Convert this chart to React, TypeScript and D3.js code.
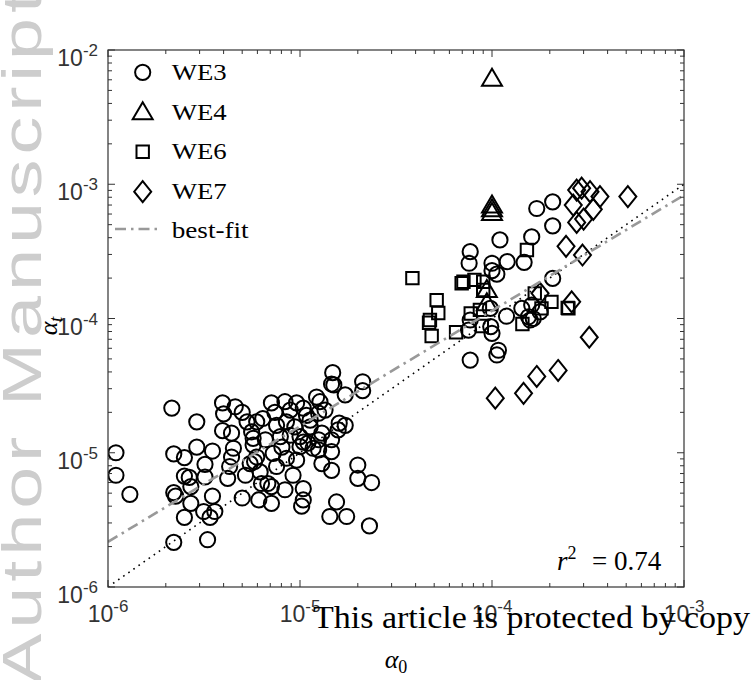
import React from 'react';
import * as d3 from 'd3';

// ---- data (alpha_0, alpha_t) ----
const WE3_X = [
  1.1e-6, 1.1e-6, 1.3e-6, 2.15e-6, 2.9e-6, 2.2e-6, 2.5e-6, 2.9e-6, 3.5e-6, 3.2e-6,
  2.5e-6, 2.65e-6, 3.2e-6, 2.2e-6, 2.25e-6, 2.7e-6, 2.7e-6, 2.5e-6, 3.15e-6, 3.4e-6,
  3.6e-6, 3.5e-6, 2.2e-6, 3.3e-6, 3.95e-6, 4.0e-6, 4.6e-6, 5.0e-6, 3.95e-6, 4.4e-6,
  4.5e-6, 4.4e-6, 4.3e-6, 4.2e-6, 5.2e-6, 5.0e-6, 5.3e-6, 5.6e-6, 5.7e-6, 5.8e-6,
  6.1e-6, 7.1e-6, 6.4e-6, 6.6e-6, 7.1e-6, 6.8e-6,
  1.48e-5, 1.46e-5, 1.5e-5, 2.12e-5, 2.12e-5, 1.72e-5, 1.22e-5, 1.27e-5, 8.35e-6, 9.6e-6,
  1.04e-5, 7.4e-6, 8.9e-6, 1.08e-5, 1.25e-5, 5.95e-6, 7.55e-6, 8.5e-6, 9.4e-6, 1.13e-5,
  1.6e-5, 1.72e-5, 1.58e-5, 5.7e-6, 7.9e-6, 1.0e-5, 1.3e-5, 1.04e-5, 1.0e-5, 1.17e-5,
  1.46e-5, 1.1e-5, 1.25e-5, 5.95e-6, 7.25e-6, 8.5e-6, 9.6e-6, 1.46e-5, 1.3e-5, 1.46e-5,
  5.5e-6, 6.2e-6, 7.55e-6, 9.2e-6, 2.0e-5, 2.0e-5, 2.36e-5, 6.3e-6, 7.1e-6, 8.35e-6,
  1.04e-5, 1.04e-5, 1.02e-5, 1.55e-5, 1.43e-5, 1.75e-5, 2.3e-5,
  8.9e-6, 1.13e-5, 1.35e-5, 8.05e-6, 1.25e-5,
  1.71e-4, 2.07e-4, 2.07e-4, 1.1e-4, 1.61e-4, 7.7e-5, 7.6e-5, 1.0e-4, 1.2e-4, 1.47e-4,
  1.0e-4, 1.06e-4, 2.07e-4, 9.8e-5, 1.19e-4, 9.85e-5, 1.0e-4, 7.7e-5, 7.55e-5, 1.43e-4,
  1.61e-4, 1.64e-4, 1.78e-4, 1.55e-4, 1.08e-4, 1.06e-4, 7.7e-5, 1.58e-4,
];
const WE3_Y = [
  1.0e-5, 6.8e-6, 4.9e-6, 2.15e-5, 1.7e-5, 9.8e-6, 9.2e-6, 1.1e-5, 1.03e-5, 8.2e-6,
  6.7e-6, 6.55e-6, 6.6e-6, 5.05e-6, 4.75e-6, 5.6e-6, 4.2e-6, 3.3e-6, 3.65e-6, 3.3e-6,
  3.65e-6, 4.75e-6, 2.15e-6, 2.25e-6, 2.35e-5, 1.95e-5, 2.2e-5, 2.0e-5, 1.46e-5, 1.4e-5,
  1.08e-5, 9.3e-6, 7.9e-6, 6.45e-6, 6.8e-6, 4.6e-6, 1.7e-5, 1.43e-5, 1.14e-5, 8.6e-6,
  4.45e-6, 2.35e-5, 1.8e-5, 1.25e-5, 4.2e-6, 5.9e-6,
  3.95e-5, 3.25e-5, 3.2e-5, 3.38e-5, 2.9e-5, 2.7e-5, 2.6e-5, 2.4e-5, 2.4e-5, 2.35e-5,
  2.15e-5, 2.0e-5, 2.08e-5, 1.9e-5, 1.97e-5, 1.7e-5, 1.6e-5, 1.7e-5, 1.56e-5, 1.56e-5,
  1.66e-5, 1.6e-5, 1.48e-5, 1.28e-5, 1.32e-5, 1.32e-5, 1.4e-5, 1.2e-5, 1.11e-5, 1.08e-5,
  1.25e-5, 1.18e-5, 1.05e-5, 9.3e-6, 9.9e-6, 9.1e-6, 8.8e-6, 1.02e-5, 8.3e-6, 7.4e-6,
  8.3e-6, 7.2e-6, 7.9e-6, 6.8e-6, 8.1e-6, 6.45e-6, 6.0e-6, 5.9e-6, 5.6e-6, 5.3e-6,
  5.4e-6, 4.45e-6, 4.0e-6, 4.3e-6, 3.35e-6, 3.35e-6, 2.85e-6,
  1.35e-5, 1.75e-5, 2.08e-5, 1.1e-5, 1.25e-5,
  6.6e-4, 7.4e-4, 4.9e-4, 3.85e-4, 4.05e-4, 3.15e-4, 2.58e-4, 2.58e-4, 2.65e-4, 2.62e-4,
  2.27e-4, 2.14e-4, 1.99e-4, 1.19e-4, 1.04e-4, 8.7e-5, 7.75e-5, 9.75e-5, 8.2e-5, 1.19e-4,
  1.26e-4, 1.0e-4, 1.12e-4, 1.03e-4, 5.8e-5, 5.35e-5, 4.9e-5, 9.75e-5,
];

const WE4_X = [1.0e-4, 1.0e-4, 1.0e-4, 1.0e-4, 9.4e-5, 9.4e-5];
const WE4_Y = [6.1e-3, 6.95e-4, 6.5e-4, 6.1e-4, 1.63e-4, 1.3e-4];

const WE6_X = [
  3.85e-5, 6.95e-5, 7.1e-5, 8.1e-5, 9.0e-5, 9.0e-5, 5.15e-5, 5.25e-5, 4.75e-5, 4.7e-5,
  4.85e-5, 6.5e-5, 7.75e-5, 8.65e-5, 8.85e-5, 1.52e-4, 1.67e-4, 2.04e-4, 1.81e-4, 1.44e-4,
  2.5e-4, 2.48e-4,
];
const WE6_Y = [
  2.0e-4, 1.83e-4, 1.88e-4, 1.94e-4, 1.88e-4, 1.63e-4, 1.37e-4, 1.1e-4, 9.75e-5, 9.3e-5,
  7.4e-5, 7.9e-5, 1.09e-4, 1.16e-4, 8.8e-5, 3.24e-4, 1.54e-4, 1.33e-4, 1.19e-4, 9.1e-5,
  1.19e-4, 1.2e-4,
];

const WE7_X = [
  2.93e-4, 2.76e-4, 3.24e-4, 3.65e-4, 5.1e-4, 2.65e-4, 3.37e-4, 2.76e-4, 3.0e-4, 2.43e-4,
  2.96e-4, 1.78e-4, 2.6e-4, 3.21e-4, 2.21e-4, 1.71e-4, 1.46e-4, 1.04e-4,
];
const WE7_Y = [
  9.35e-4, 9.05e-4, 8.8e-4, 8.1e-4, 8.1e-4, 7.0e-4, 6.5e-4, 5.2e-4, 5.5e-4, 3.45e-4,
  2.97e-4, 1.54e-4, 1.33e-4, 7.25e-5, 4.1e-5, 3.7e-5, 2.77e-5, 2.55e-5,
];

const FIT_X = [1e-6, 1e-3];
const FIT_Y = [2.17e-6, 8.3e-4];
const ONE_X = [1e-6, 1e-3];
const ONE_Y = [1e-6, 1e-3];

const X_DOMAIN = [1e-6, 1e-3];
const Y_DOMAIN = [1e-6, 1e-2];
const X_MAJOR = [1e-6, 1e-5, 1e-4, 1e-3];
const X_EXP = ['-6', '-5', '-4', '-3'];
const Y_MAJOR = [1e-6, 1e-5, 1e-4, 1e-3, 1e-2];
const Y_EXP = ['-6', '-5', '-4', '-3', '-2'];
const LEGEND_LABELS = ['WE3', 'WE4', 'WE6', 'WE7', 'best-fit'];
const R2_TEXT = '0.74';

const AX = '#333333';
const SANS = '"Liberation Sans", Arial, sans-serif';
const SERIF = '"Liberation Serif", "Times New Roman", serif';
const MS = 2; // marker stroke

const circlePath = 'M7.6,0A7.6,7.6 0 1 1 -7.6,0A7.6,7.6 0 1 1 7.6,0Z';
const triPath = 'M0,-10L10,7L-10,7Z';
const sqPath = 'M-6.2,-6.2L6.2,-6.2L6.2,6.2L-6.2,6.2Z';
const diaPath = 'M0,-10.5L8.5,0L0,10.5L-8.5,0Z';

export default function App() {
  const L = 108, R = 684, T = 50, B = 587;
  const x = d3.scaleLog().domain(X_DOMAIN).range([L, R]);
  const y = d3.scaleLog().domain(Y_DOMAIN).range([B, T]);
  const isMajor = (v: number) => Math.abs(Math.log10(v) - Math.round(Math.log10(v))) < 1e-6;
  const xt = x.ticks();
  const yt = y.ticks();
  const line = d3.line<[number, number]>().x(d => x(d[0])).y(d => y(d[1]));
  const fitPts: [number, number][] = FIT_X.map((v, i) => [v, FIT_Y[i]]);
  const onePts: [number, number][] = ONE_X.map((v, i) => [v, ONE_Y[i]]);

  const series = [
    { xs: WE3_X, ys: WE3_Y, path: circlePath },
    { xs: WE4_X, ys: WE4_Y, path: triPath },
    { xs: WE6_X, ys: WE6_Y, path: sqPath },
    { xs: WE7_X, ys: WE7_Y, path: diaPath },
  ];
  const legendY = [72.3, 112.3, 151.7, 191.7, 229];
  const legendBase = [80, 119.5, 159, 199, 237.5];

  return (
    <svg width={755} height={680} style={{ position: 'absolute', left: 0, top: 0, background: '#fff' }}>
      <rect x={0} y={0} width={755} height={680} fill="#fff" />
      {/* watermark */}
      <text
        transform="translate(41,684) rotate(-90) scale(1.35,1)"
        fontFamily={SANS}
        fontSize={56}
        fill="#cdcdcd"
        textLength={692 / 1.35}
        lengthAdjust="spacing"
      >
        Author Manuscript
      </text>

      <clipPath id="plotclip">
        <rect x={L} y={T} width={R - L} height={B - T} />
      </clipPath>

      {/* markers */}
      <g clipPath="url(#plotclip)">
        {series.map((s, si) => (
          <g key={si}>
            {s.xs.map((v, i) => (
              <path
                key={i}
                d={s.path}
                transform={`translate(${x(v)},${y(s.ys[i])})`}
                fill="none"
                stroke="#000"
                strokeWidth={MS}
              />
            ))}
          </g>
        ))}
        <path d={line(onePts) || ''} fill="none" stroke="#000" strokeWidth={1.6} strokeDasharray="1.6 4.6" />
        <path d={line(fitPts) || ''} fill="none" stroke="#999" strokeWidth={2.6} strokeDasharray="11 5 2.5 5" />
      </g>

      {/* axes box */}
      <rect x={L} y={T} width={R - L} height={B - T} fill="none" stroke={AX} strokeWidth={1.2} />
      {xt.map((v, i) => {
        const len = isMajor(v) ? 7 : 4;
        const px = x(v);
        return (
          <g key={'xt' + i} stroke={AX} strokeWidth={1}>
            <line x1={px} x2={px} y1={B} y2={B - len} />
            <line x1={px} x2={px} y1={T} y2={T + len} />
          </g>
        );
      })}
      {yt.map((v, i) => {
        const len = isMajor(v) ? 7 : 4;
        const py = y(v);
        return (
          <g key={'yt' + i} stroke={AX} strokeWidth={1}>
            <line x1={L} x2={L + len} y1={py} y2={py} />
            <line x1={R} x2={R - len} y1={py} y2={py} />
          </g>
        );
      })}

      {/* tick labels */}
      {X_MAJOR.map((v, i) => (
        <text key={'xl' + i} x={x(v)} y={622} textAnchor="middle" fontFamily={SANS} fontSize={23} fill={AX}>
          10<tspan dy={-10} fontSize={17}>{X_EXP[i]}</tspan>
        </text>
      ))}
      {Y_MAJOR.map((v, i) => (
        <text key={'yl' + i} x={98} y={y(v) + 16} textAnchor="end" fontFamily={SANS} fontSize={23} fill={AX}>
          10<tspan dy={-10} fontSize={17}>{Y_EXP[i]}</tspan>
        </text>
      ))}

      {/* axis labels */}
      <text x={396} y={668} textAnchor="middle" fontFamily={SERIF} fontSize={26} fill="#000">
        <tspan fontStyle="italic">α</tspan>
        <tspan dy={5} fontSize={18}>0</tspan>
      </text>
      <text transform="translate(57,326) rotate(-90)" textAnchor="middle" fontFamily={SERIF} fontSize={26} fill="#000">
        <tspan fontStyle="italic">α</tspan>
        <tspan dy={5} fontSize={18} fontStyle="italic">t</tspan>
      </text>

      {/* r^2 */}
      <text x={557} y={570} fontFamily={SERIF} fontSize={27} fill="#000">
        <tspan fontStyle="italic">r</tspan>
        <tspan dy={-11} fontSize={18}>2</tspan>
      </text>
      <text x={592} y={570} fontFamily={SERIF} fontSize={27} fill="#000">
        = {R2_TEXT}
      </text>

      {/* legend */}
      {series.map((s, i) => (
        <path key={'lm' + i} d={s.path} transform={`translate(142.7,${legendY[i]})`} fill="none" stroke="#000" strokeWidth={MS} />
      ))}
      <line x1={115} x2={160} y1={legendY[4]} y2={legendY[4]} stroke="#999" strokeWidth={2.6} strokeDasharray="11 5 2.5 5" />
      {LEGEND_LABELS.map((t, i) => (
        <text
          key={'lt' + i}
          x={171.7}
          y={legendBase[i]}
          fontFamily={SERIF}
          fontSize={23}
          fill="#000"
          textLength={i < 4 ? 55 : 77}
          lengthAdjust="spacingAndGlyphs"
        >
          {t}
        </text>
      ))}

      {/* overlay footer text */}
      <text x={313} y={628} fontFamily={SERIF} fontSize={32} fill="#000" textLength={437} lengthAdjust="spacingAndGlyphs">
        This article is protected by copy
      </text>
    </svg>
  );
}
